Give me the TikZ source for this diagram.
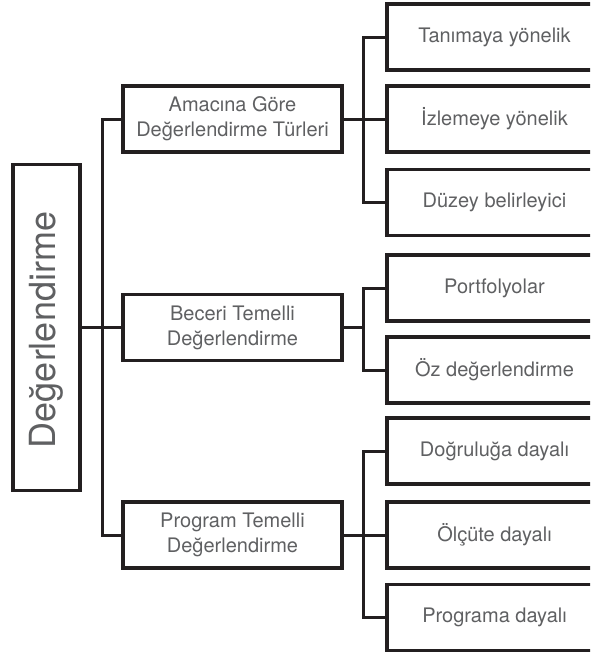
\documentclass[tikz,border=0pt]{standalone}
\usepackage{fontspec}
\setmainfont{TeX Gyre Heros}
\definecolor{ink}{HTML}{231F20}
\definecolor{txt}{HTML}{5F6062}
\tikzset{
  boxn/.style={draw=ink, line width=3.4pt, inner sep=0pt, text=txt, align=center,
               font=\fontsize{20}{25}\selectfont},
  midbox/.style={boxn, minimum width=219pt, minimum height=66pt},
  leafbox/.style={boxn, minimum width=215pt, minimum height=66pt},
  conn/.style={draw=ink, line width=3pt}
}
\begin{document}
\begin{tikzpicture}[x=1pt,y=-1pt]
\path[use as bounding box, clip] (0,0) rectangle (590,654);
% root
\node[boxn, minimum width=67pt, minimum height=326pt] (root) at (46.5,327.5) {};
\node[rotate=90, text=txt, font=\fontsize{36}{40}\selectfont] (roottxt) at (46.5,330) {Değerlendirme};
% middle
\node[midbox] (m1) at (232.5,119) {Amacına Göre\\Değerlendirme Türleri};
\node[midbox] (m2) at (232.5,327.5) {Beceri Temelli\\Değerlendirme};
\node[midbox] (m3) at (232.5,535) {Program Temelli\\Değerlendirme};
% leaves
\node[leafbox] (l1) at (494.5,37) {Tanımaya yönelik};
\node[leafbox] (l2) at (494.5,119) {İzlemeye yönelik};
\node[leafbox] (l3) at (494.5,202.5) {Düzey belirleyici};
\node[leafbox] (l4) at (494.5,288) {Portfolyolar};
\node[leafbox] (l5) at (494.5,370) {Öz değerlendirme};
\node[leafbox] (l6) at (494.5,451) {Doğruluğa dayalı};
\node[leafbox] (l7) at (494.5,535) {Ölçüte dayalı};
\node[leafbox] (l8) at (494.5,617.5) {Programa dayalı};
% buses
\coordinate (bl) at (102,0);
\coordinate (br) at (363.5,0);
\draw[conn] (m1.west) -| (bl |- m3.west) -- (m3.west);
\draw[conn] (root.east) -- (m2.west);
\draw[conn] (l1.west) -| (br |- l3.west) -- (l3.west);
\draw[conn] (m1.east) -- (l2.west);
\draw[conn] (l4.west) -| (br |- l5.west) -- (l5.west);
\draw[conn] (m2.east) -- (br |- m2.east);
\draw[conn] (l6.west) -| (br |- l8.west) -- (l8.west);
\draw[conn] (m3.east) -- (l7.west);
\end{tikzpicture}
\end{document}
